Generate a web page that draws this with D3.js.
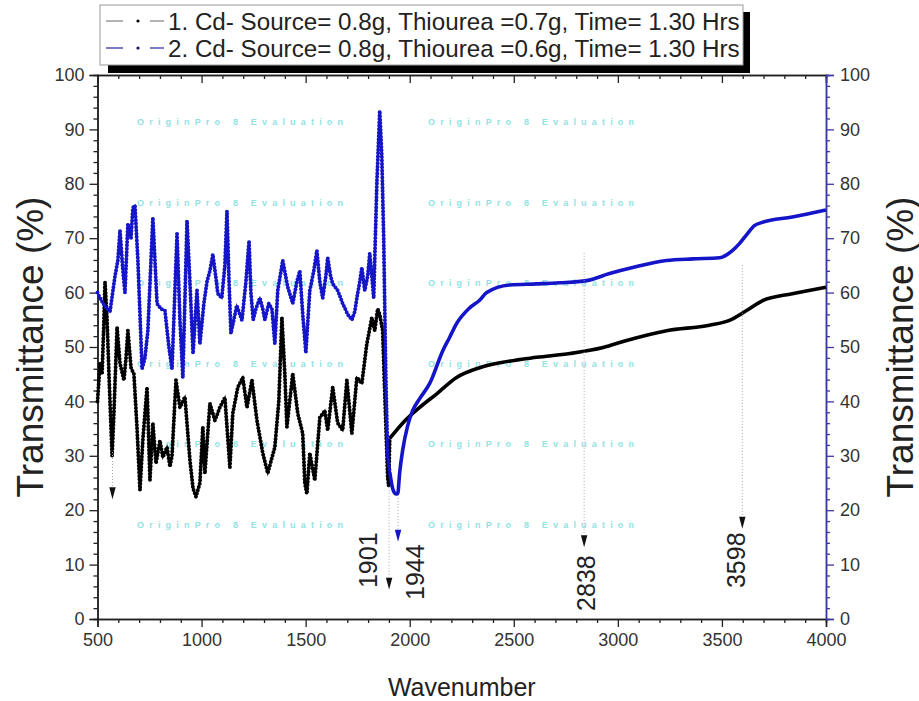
<!DOCTYPE html>
<html>
<head>
<meta charset="utf-8">
<script src="https://cdn.jsdelivr.net/npm/d3@7"></script>
<style>
  body { margin: 0; background: #fff; }
  svg { display: block; font-family: Arial, 'Liberation Sans', sans-serif; }
</style>
</head>
<body>
<svg id="chart" width="919" height="701"></svg>
<script>
// series 1 : Cd source 0.8g, thiourea 0.7g (black)
const wave1 = [500, 507, 512, 522, 531, 536, 546, 555, 570, 579, 594, 608, 627, 637, 646, 661, 675, 690, 704, 718,
  738, 752, 766, 781, 800, 814, 834, 848, 858, 877, 896, 920, 944, 959, 973, 992, 1006, 1016, 1040, 1064,
  1088, 1112, 1136, 1150, 1174, 1198, 1218, 1242, 1266, 1294, 1318, 1352, 1371, 1386, 1400, 1410, 1438, 1462, 1486, 1496,
  1506, 1520, 1544, 1568, 1592, 1606, 1630, 1654, 1678, 1698, 1722, 1746, 1770, 1794, 1818, 1832, 1846, 1856, 1870, 1885,
  1894, 1899, 1904, 1966, 2048, 2130, 2225, 2336, 2448, 2610, 2770, 2929, 3042, 3234, 3440, 3536, 3618, 3694, 3838, 4000]
const trans1 = [40, 44, 47, 45, 55, 62, 55, 45, 30, 38, 53.6, 47, 43.9, 48, 53, 46.2, 45, 35, 23.7, 33,
  42.6, 25.5, 36, 28.6, 32.8, 29.7, 31.6, 28, 30, 43.9, 38.9, 40.8, 29.2, 24, 22.5, 25, 35.3, 26.8, 39.6, 36.5,
  38.9, 40.7, 27.9, 37.8, 42.6, 44.4, 38.9, 43.9, 36.5, 30.5, 26.8, 31.6, 40, 55.4, 45, 35.3, 45.1, 37.8, 34.1, 25,
  23, 30.5, 25.5, 37, 38.3, 34.7, 42.6, 36, 34.7, 43.9, 34.1, 44.4, 43.3, 50.6, 55.4, 53, 57, 56, 53, 36,
  26, 24.5, 33.2, 36, 38.9, 41.4, 44.4, 46.2, 47.2, 48.1, 48.8, 49.9, 51.2, 53, 54, 54.9, 56.7, 58.5, 59.8, 61]

// series 2 : Cd source 0.8g, thiourea 0.6g (blue)
const wave2 = [500, 512, 536, 560, 584, 598, 608, 622, 632, 646, 661, 670, 680, 694, 714, 728, 742, 766, 786, 805,
  824, 843, 858, 882, 896, 910, 930, 944, 959, 978, 992, 1011, 1026, 1040, 1054, 1068, 1078, 1097, 1112, 1122,
  1132, 1141, 1155, 1169, 1184, 1194, 1213, 1228, 1237, 1248, 1261, 1280, 1294, 1304, 1323, 1338, 1352, 1366, 1390, 1414,
  1438, 1458, 1472, 1486, 1501, 1520, 1539, 1554, 1568, 1582, 1597, 1606, 1620, 1630, 1654, 1678, 1702, 1722, 1736, 1746,
  1760, 1770, 1784, 1798, 1808, 1818, 1827, 1842, 1856, 1866, 1875, 1885, 1894, 1904, 1918, 1933, 1942, 1952, 1966, 1990,
  2014, 2048, 2096, 2160, 2192, 2225, 2288, 2336, 2370, 2480, 2610, 2720, 2850, 2960, 3071, 3234, 3360, 3488, 3550, 3584,
  3618, 3656, 3694, 3838, 4000]
const trans2 = [60, 59, 57.5, 56.5, 63, 66, 71.4, 64, 60, 72.7, 70, 75.6, 76, 66, 46, 48, 53, 73.8, 58, 57,
  56.7, 50, 46, 70.8, 55, 44.4, 73.2, 62, 48.8, 60.4, 50.6, 58, 62, 64, 67, 63, 59.8, 59, 65, 75,
  62, 52.5, 55, 57.6, 56, 54.9, 62, 69.5, 60, 55, 57, 59, 57, 55, 58, 57, 50.6, 60.4, 65.9, 61,
  58, 62, 64, 56, 49, 60.4, 64, 67.7, 62, 59, 63, 66.4, 63, 61.6, 60.4, 58, 56, 55, 56.5, 59,
  62, 64.6, 60.4, 63, 67.2, 63, 59, 80, 93.4, 85, 70, 45, 30, 27, 24, 23, 23, 27, 31, 35.5,
  38.3, 40.5, 43.3, 49.4, 51.8, 54.3, 57.2, 58.6, 60, 61.4, 61.6, 61.8, 62.2, 63.5, 64.6, 65.9, 66.2, 66.4, 67.7, 69,
  70.6, 72.3, 72.9, 73.9, 75.2]

const legendLabels = [
  '1. Cd- Source= 0.8g, Thiourea =0.7g, Time= 1.30 Hrs',
  '2. Cd- Source= 0.8g, Thiourea =0.6g, Time= 1.30 Hrs'
]
const xTicks = [500, 1000, 1500, 2000, 2500, 3000, 3500, 4000]
const yTicks = [0, 10, 20, 30, 40, 50, 60, 70, 80, 90, 100]

// marked bands: wavenumber, label, top and bottom of the guide line, tip of the arrow (in %)
const peakWaves = [572, 1901, 1944, 2838, 3598]
const peakLabels = ['', '1901', '1944', '2838', '3598']
const peakLineTop = [30.7, 24.3, 22.8, 67.3, 65.1]
const peakLineBottom = [24.2, 7.6, 16.4, 15.4, 18.8]
const peakTip = [22, 5.4, 14.2, 13.2, 16.6]

const width = 919
const height = 701
const margin = { top: 75, right: 93, bottom: 82, left: 97.5 }
const blue = '#1414c8'
const axisBlue = '#3a3aa0'

const svg = d3.select('#chart')

const x = d3.scaleLinear().domain([500, 4000]).range([margin.left, width - margin.right])
const y = d3.scaleLinear().domain([0, 100]).range([height - margin.bottom, margin.top])

// watermark text, as in the evaluation copy
const wmRows = [122, 203, 283, 364, 444, 525]
const wmCols = [137, 428]
wmRows.forEach(r => {
  wmCols.forEach(c => {
    svg.append('text')
      .attr('x', c)
      .attr('y', r + 3)
      .attr('textLength', 206)
      .attr('lengthAdjust', 'spacing')
      .attr('fill', '#8fe3e3')
      .style('font-size', '9px')
      .style('font-weight', 'bold')
      .text('OriginPro 8 Evaluation')
  })
})

// axes
const minorX = d3.range(500, 4001, 100).filter(v => v % 500 !== 0)
const minorY = d3.range(0, 101, 2).filter(v => v % 10 !== 0)

function styleAxis (g, color) {
  g.select('.domain').attr('stroke', color).attr('stroke-width', 1.5)
  g.selectAll('.tick line').attr('stroke', color).attr('stroke-width', 1.3)
  g.selectAll('.tick text').attr('fill', '#333').style('font-size', '18px').style('font-family', 'Arial, Liberation Sans, sans-serif')
}

const bottomY = height - margin.bottom
svg.append('g')
  .attr('transform', `translate(0,${bottomY})`)
  .call(d3.axisBottom(x).tickValues(minorX).tickSize(4).tickFormat(''))
  .call(g => styleAxis(g, '#222'))
svg.append('g')
  .attr('transform', `translate(0,${bottomY})`)
  .call(d3.axisBottom(x).tickValues(xTicks).tickSize(8).tickPadding(6).tickFormat(d3.format('d')))
  .call(g => styleAxis(g, '#222'))

svg.append('g')
  .attr('transform', `translate(0,${margin.top})`)
  .call(d3.axisTop(x).tickValues(minorX).tickSize(-4).tickFormat(''))
  .call(g => styleAxis(g, '#222'))
svg.append('g')
  .attr('transform', `translate(0,${margin.top})`)
  .call(d3.axisTop(x).tickValues(xTicks).tickSize(-8).tickFormat(''))
  .call(g => styleAxis(g, '#222'))

svg.append('g')
  .attr('transform', `translate(${margin.left},0)`)
  .call(d3.axisLeft(y).tickValues(minorY).tickSize(4).tickFormat(''))
  .call(g => styleAxis(g, '#222'))
svg.append('g')
  .attr('transform', `translate(${margin.left},0)`)
  .call(d3.axisLeft(y).tickValues(yTicks).tickSize(8).tickPadding(5))
  .call(g => styleAxis(g, '#222'))

const rightX = width - margin.right
svg.append('g')
  .attr('transform', `translate(${rightX},0)`)
  .call(d3.axisRight(y).tickValues(minorY).tickSize(4).tickFormat(''))
  .call(g => styleAxis(g, axisBlue))
svg.append('g')
  .attr('transform', `translate(${rightX},0)`)
  .call(d3.axisRight(y).tickValues(yTicks).tickSize(8).tickPadding(6))
  .call(g => styleAxis(g, axisBlue))

// axis titles
svg.append('text')
  .attr('transform', `translate(30,${(margin.top + bottomY) / 2}) rotate(-90)`)
  .attr('text-anchor', 'middle')
  .attr('dominant-baseline', 'central')
  .attr('fill', '#222')
  .style('font-size', '37px')
  .text('Transmittance (%)')
svg.append('text')
  .attr('transform', `translate(900,${(margin.top + bottomY) / 2}) rotate(-90)`)
  .attr('text-anchor', 'middle')
  .attr('dominant-baseline', 'central')
  .attr('fill', '#222')
  .style('font-size', '37px')
  .text('Transmittance (%)')
svg.append('text')
  .attr('x', (margin.left + rightX) / 2)
  .attr('y', 696)
  .attr('text-anchor', 'middle')
  .attr('fill', '#222')
  .style('font-size', '25px')
  .text('Wavenumber')

// spectra
const series = [
  { wave: wave1, trans: trans1, color: '#000', dotsUntil: 1900 },
  { wave: wave2, trans: trans2, color: blue, dotsUntil: 1900 }
]
const line = d3.line().x(d => x(d[0])).y(d => y(d[1]))
const smoothLine = d3.line().x(d => x(d[0])).y(d => y(d[1])).curve(d3.curveMonotoneX)

series.forEach(s => {
  const pts = s.wave.map((w, i) => [w, s.trans[i]])
  const noisy = pts.filter(p => p[0] <= s.dotsUntil + 5)
  const smooth = pts.filter(p => p[0] >= s.dotsUntil)
  svg.append('path')
    .attr('d', line(noisy))
    .attr('fill', 'none')
    .attr('stroke', s.color)
    .attr('stroke-width', 1.6)
  svg.append('path')
    .attr('d', line(noisy))
    .attr('fill', 'none')
    .attr('stroke', s.color)
    .attr('stroke-width', 4)
    .attr('stroke-linecap', 'round')
    .attr('stroke-dasharray', '0,3.4')
  svg.append('path')
    .attr('d', smoothLine(smooth))
    .attr('fill', 'none')
    .attr('stroke', s.color)
    .attr('stroke-width', 3.6)
    .attr('stroke-linejoin', 'round')
})

// band markers
const labelShift = [[0, 0], [-21, 10.8], [17, 8.6], [2, 6.6], [-6, 10.8]]
peakWaves.forEach((w, i) => {
  const px = x(w)
  const col = w === 1944 ? blue : '#111'
  svg.append('line')
    .attr('x1', px).attr('x2', px)
    .attr('y1', y(peakLineTop[i])).attr('y2', y(peakLineBottom[i]))
    .attr('stroke', '#aaa')
    .attr('stroke-width', 1)
    .attr('stroke-dasharray', '1,2')
  const top = y(peakLineBottom[i])
  const tip = y(peakTip[i])
  svg.append('path')
    .attr('d', `M${px - 3.2},${top}L${px + 3.2},${top}L${px},${tip}Z`)
    .attr('fill', col)
  if (peakLabels[i]) {
    svg.append('text')
      .attr('transform', `translate(${px + labelShift[i][0]},${y(labelShift[i][1])}) rotate(-90)`)
      .attr('text-anchor', 'middle')
      .attr('dominant-baseline', 'central')
      .attr('fill', '#222')
      .style('font-size', '25px')
      .text(peakLabels[i])
  }
})

// legend with drop shadow
const lg = svg.append('g')
lg.append('rect').attr('x', 108).attr('y', 12).attr('width', 642).attr('height', 61).attr('fill', '#000')
lg.append('rect').attr('x', 100).attr('y', 5).attr('width', 643).attr('height', 60)
  .attr('fill', '#fff').attr('stroke', '#999').attr('stroke-width', 1)
const legendDash = ['#9a9a9a', '#5050a8']
legendLabels.forEach((t, i) => {
  const ly = 21 + i * 27
  lg.append('line').attr('x1', 106).attr('x2', 123).attr('y1', ly).attr('y2', ly)
    .attr('stroke', legendDash[i]).attr('stroke-width', 1.5)
  lg.append('circle').attr('cx', 138).attr('cy', ly).attr('r', 1.6).attr('fill', i === 0 ? '#000' : '#101060')
  lg.append('line').attr('x1', 150).attr('x2', 164).attr('y1', ly).attr('y2', ly)
    .attr('stroke', legendDash[i]).attr('stroke-width', 1.5)
  lg.append('text')
    .attr('x', 168)
    .attr('y', ly)
    .attr('dominant-baseline', 'central')
    .attr('fill', '#222')
    .style('font-size', '24.2px')
    .text(t)
})
</script>
</body>
</html>
